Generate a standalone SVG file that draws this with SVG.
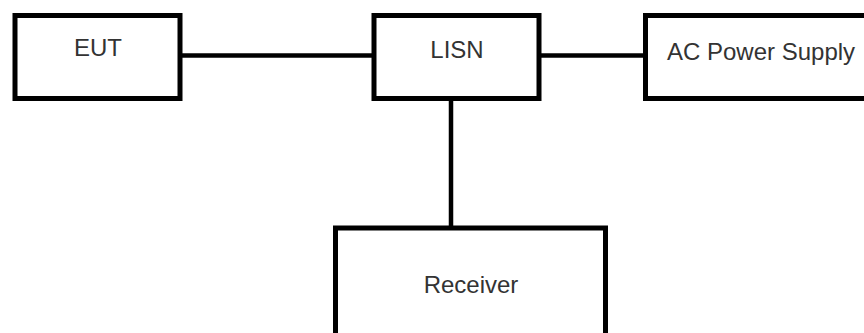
<svg xmlns="http://www.w3.org/2000/svg" width="864" height="333" viewBox="0 0 864 333">
<style>
.box{fill:#fff;stroke:#000;stroke-width:5}
.lbl{font-family:"Liberation Sans",Arial,sans-serif;font-size:24px;fill:#333}
.conn{stroke:#000;stroke-width:4.5;fill:none}
</style>
<rect width="864" height="333" fill="#fff"/>
<g id="connectors">
<line class="conn" x1="180" y1="55.5" x2="374" y2="55.5"/>
<line class="conn" x1="539" y1="55.5" x2="645" y2="55.5"/>
<line class="conn" x1="451" y1="98" x2="451" y2="228"/>
</g>
<g id="eut">
<rect class="box" x="15" y="15.5" width="165" height="83"/>
<text class="lbl" x="98" y="56" text-anchor="middle">EUT</text>
</g>
<g id="lisn">
<rect class="box" x="374" y="15.5" width="165" height="83"/>
<text class="lbl" x="457" y="58" text-anchor="middle">LISN</text>
</g>
<g id="ac">
<rect class="box" x="645.5" y="15.5" width="240" height="83"/>
<text class="lbl" x="667" y="60">AC Power Supply</text>
</g>
<g id="receiver">
<rect class="box" x="335.5" y="228" width="270" height="120"/>
<text class="lbl" x="471" y="293" text-anchor="middle">Receiver</text>
</g>
</svg>
